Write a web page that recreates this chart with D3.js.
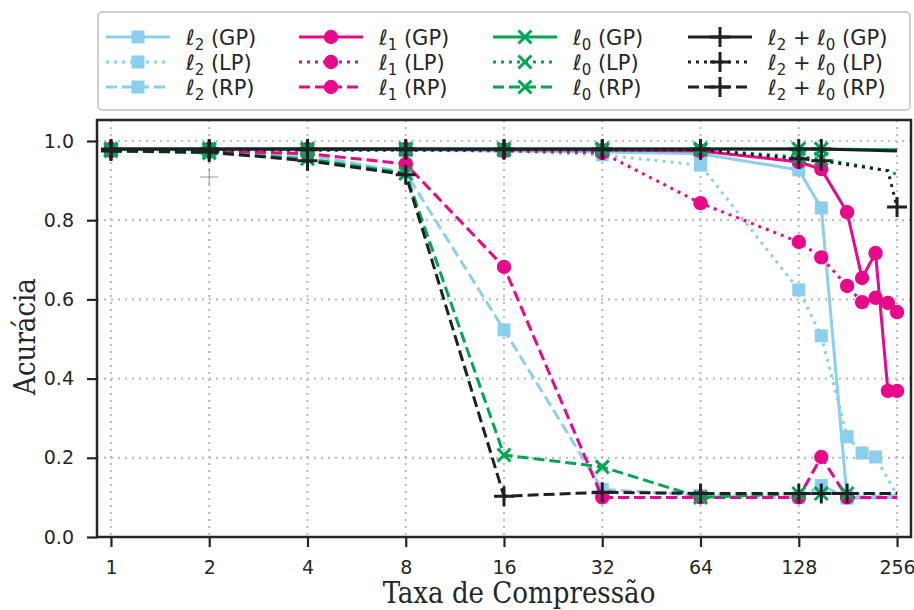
<!DOCTYPE html>
<html>
<head>
<meta charset="utf-8">
<script src="https://cdn.jsdelivr.net/npm/d3@7"></script>
<style>
  body { margin: 0; background: #fff; }
  svg { display: block; }
  .tick text { font-family: "DejaVu Sans", sans-serif; font-size: 19px; fill: #262626; }
  .label { font-family: "DejaVu Serif Condensed", "DejaVu Serif", serif; font-size: 29px; fill: #262626; }
  .leg text { font-family: "DejaVu Sans", sans-serif; font-size: 21px; fill: #262626; }
</style>
</head>
<body>
<svg id="chart" width="914" height="610"></svg>
<script>
// compression rates on the x axis
const rates = [1, 2, 4, 8, 16, 32, 64, 128, 150, 180, 200, 220, 240, 256];
const xTicks = [1, 2, 4, 8, 16, 32, 64, 128, 256];
const yTicks = [0, 0.2, 0.4, 0.6, 0.8, 1.0];

// accuracy per rate (null = no point at that rate)
const l2GP  = [0.978, 0.978, 0.978, 0.978, 0.975, 0.972, 0.968, 0.927, 0.831, 0.098, null, null, null, 0.100];
const l2LP  = [0.976, 0.976, 0.976, 0.976, 0.975, 0.965, 0.939, 0.624, 0.508, 0.253, 0.212, 0.202, null, 0.105];
const l2RP  = [0.975, 0.972, 0.965, 0.920, 0.523, 0.120, 0.105, 0.100, 0.130, 0.100, null, null, null, 0.105];
const l1GP  = [0.980, 0.980, 0.980, 0.980, 0.978, 0.977, 0.975, 0.947, 0.929, 0.820, 0.654, 0.717, 0.369, 0.369];
const l1LP  = [0.977, 0.977, 0.977, 0.977, 0.975, 0.970, 0.843, 0.745, 0.706, 0.634, 0.593, 0.604, 0.591, 0.568];
const l1RP  = [0.975, 0.975, 0.968, 0.942, 0.682, 0.100, 0.100, 0.100, 0.202, 0.100, null, null, null, 0.100];
const l0GP  = [0.980, 0.980, 0.980, 0.980, 0.980, 0.980, 0.980, 0.980, 0.980, null, null, null, null, 0.978];
const l0LP  = [0.978, 0.978, 0.978, 0.978, 0.978, 0.978, 0.978, 0.960, 0.955, null, null, null, 0.925, 0.915];
const l0RP  = [0.975, 0.970, 0.955, 0.918, 0.207, 0.177, 0.100, 0.110, 0.110, 0.110, null, null, null, 0.110];
const l20GP = [0.980, 0.980, 0.980, 0.980, 0.980, 0.980, 0.980, 0.980, 0.980, null, null, null, null, 0.975];
const l20LP = [0.978, 0.978, 0.978, 0.978, 0.978, 0.978, 0.978, 0.955, 0.950, null, null, null, 0.925, 0.833];
const l20RP = [0.975, 0.972, 0.950, 0.915, 0.103, 0.113, 0.110, 0.110, 0.110, 0.110, null, null, null, 0.110];

// faint stray marker seen in the figure
const strayPoint = [2, 0.909];

const colors = { l2: "#8ccfec", l1: "#e8088a", l0: "#00a651", l20: "#1c2126" };

// label parts: [text, subscript]
const series = [
  { key: "l2",  vals: l2GP,  style: "GP", shape: "square", unmarked: [256], label: [["ℓ", "2"]] },
  { key: "l2",  vals: l2LP,  style: "LP", shape: "square", unmarked: [256], label: [["ℓ", "2"]] },
  { key: "l2",  vals: l2RP,  style: "RP", shape: "square", unmarked: [256], label: [["ℓ", "2"]] },
  { key: "l1",  vals: l1GP,  style: "GP", shape: "circle", unmarked: [], label: [["ℓ", "1"]] },
  { key: "l1",  vals: l1LP,  style: "LP", shape: "circle", unmarked: [], label: [["ℓ", "1"]] },
  { key: "l1",  vals: l1RP,  style: "RP", shape: "circle", unmarked: [256], label: [["ℓ", "1"]] },
  { key: "l0",  vals: l0GP,  style: "GP", shape: "x", unmarked: [256], label: [["ℓ", "0"]] },
  { key: "l0",  vals: l0LP,  style: "LP", shape: "x", unmarked: [240, 256], label: [["ℓ", "0"]] },
  { key: "l0",  vals: l0RP,  style: "RP", shape: "x", unmarked: [256], label: [["ℓ", "0"]] },
  { key: "l20", vals: l20GP, style: "GP", shape: "plus", unmarked: [256], label: [["ℓ", "2"], [" + ℓ", "0"]] },
  { key: "l20", vals: l20LP, style: "LP", shape: "plus", unmarked: [240], label: [["ℓ", "2"], [" + ℓ", "0"]] },
  { key: "l20", vals: l20RP, style: "RP", shape: "plus", unmarked: [256], label: [["ℓ", "2"], [" + ℓ", "0"]] }
];

const dashes = { GP: null, LP: "3,5", RP: "11,5" };

const svg = d3.select("#chart");
const margin = { top: 120, right: 3, bottom: 73, left: 97 };
const W = 914, H = 610;

const x = d3.scaleLog().base(2)
  .domain([Math.pow(2, -0.142), Math.pow(2, 8.142)])
  .range([margin.left, W - margin.right]);
const y = d3.scaleLinear()
  .domain([0, 1.053])
  .range([H - margin.bottom, margin.top]);

// grid
const grid = svg.append("g");
xTicks.forEach(t => {
  grid.append("line")
    .attr("x1", x(t)).attr("x2", x(t))
    .attr("y1", margin.top).attr("y2", H - margin.bottom)
    .attr("stroke", "#bdbdbd").attr("stroke-width", 2.2)
    .attr("stroke-dasharray", "2,5");
});
yTicks.forEach(t => {
  grid.append("line")
    .attr("x1", margin.left).attr("x2", W - margin.right)
    .attr("y1", y(t)).attr("y2", y(t))
    .attr("stroke", "#bdbdbd").attr("stroke-width", 2.2)
    .attr("stroke-dasharray", "2,5");
});

function drawMarker(g, shape, cx, cy, color) {
  if (shape === "square") {
    g.append("rect").attr("x", cx - 6.5).attr("y", cy - 6.5)
      .attr("width", 13).attr("height", 13).attr("fill", color);
  } else if (shape === "circle") {
    g.append("circle").attr("cx", cx).attr("cy", cy).attr("r", 7.2).attr("fill", color);
  } else if (shape === "x") {
    const s = 6.5;
    g.append("path")
      .attr("d", `M${cx - s},${cy - s}L${cx + s},${cy + s}M${cx - s},${cy + s}L${cx + s},${cy - s}`)
      .attr("stroke", color).attr("stroke-width", 3).attr("fill", "none");
  } else if (shape === "plus") {
    const s = 10;
    g.append("path")
      .attr("d", `M${cx - s},${cy}L${cx + s},${cy}M${cx},${cy - s}L${cx},${cy + s}`)
      .attr("stroke", color).attr("stroke-width", 3).attr("fill", "none");
  }
}

const line = d3.line().x(d => x(d[0])).y(d => y(d[1]));

// stray marker
const sx = x(strayPoint[0]), sy = y(strayPoint[1]);
svg.append("path")
  .attr("d", `M${sx - 9},${sy}L${sx + 9},${sy}M${sx},${sy - 9}L${sx},${sy + 9}`)
  .attr("stroke", "#9a9a9a").attr("stroke-width", 1);

const plot = svg.append("g");
series.forEach(s => {
  const pts = rates.map((r, i) => [r, s.vals[i]]).filter(d => d[1] !== null);
  const color = colors[s.key];
  const g = plot.append("g");
  g.append("path")
    .attr("d", line(pts))
    .attr("fill", "none")
    .attr("stroke", color)
    .attr("stroke-width", 3)
    .attr("stroke-dasharray", dashes[s.style]);
  pts.filter(d => !s.unmarked.includes(d[0]))
    .forEach(d => drawMarker(g, s.shape, x(d[0]), y(d[1]), color));
});

// axes
const xAxis = svg.append("g")
  .attr("transform", `translate(0,${H - margin.bottom})`)
  .call(d3.axisBottom(x).tickValues(xTicks).tickFormat(d3.format("d")).tickSize(10).tickPadding(14));
const yAxis = svg.append("g")
  .attr("transform", `translate(${margin.left},0)`)
  .call(d3.axisLeft(y).tickValues(yTicks).tickFormat(d3.format(".1f")).tickSize(10).tickPadding(13));
[xAxis, yAxis].forEach(a => {
  a.select(".domain").remove();
  a.selectAll(".tick line").attr("stroke", "#262626").attr("stroke-width", 2.2);
});

// spines
svg.append("rect")
  .attr("x", margin.left).attr("y", margin.top)
  .attr("width", W - margin.right - margin.left)
  .attr("height", H - margin.bottom - margin.top)
  .attr("fill", "none").attr("stroke", "#262626").attr("stroke-width", 2.5);

svg.append("text").attr("class", "label")
  .attr("x", (margin.left + W - margin.right) / 2 + 15).attr("y", 603)
  .attr("text-anchor", "middle").text("Taxa de Compressão");
svg.append("text").attr("class", "label")
  .attr("transform", `translate(35,${(margin.top + H - margin.bottom) / 2 + 8}) rotate(-90)`)
  .attr("text-anchor", "middle").text("Acurácia");

// legend
const leg = svg.append("g").attr("class", "leg");
leg.append("rect")
  .attr("x", 98).attr("y", 12).attr("width", 812).attr("height", 98)
  .attr("rx", 4).attr("fill", "#fff").attr("stroke", "#cfcfcf").attr("stroke-width", 2);
const colX = [106, 299, 493, 688];
const rowY = [37, 62, 87];
series.forEach((s, i) => {
  const cx = colX[Math.floor(i / 3)], cy = rowY[i % 3];
  const color = colors[s.key];
  const g = leg.append("g");
  g.append("line")
    .attr("x1", cx).attr("x2", cx + 64).attr("y1", cy).attr("y2", cy)
    .attr("stroke", color).attr("stroke-width", 3)
    .attr("stroke-dasharray", dashes[s.style]);
  drawMarker(g, s.shape, cx + 32, cy, color);
  const t = g.append("text").attr("x", cx + 80).attr("y", cy + 8);
  let shift = 0;
  s.label.forEach(p => {
    t.append("tspan").attr("dy", -shift).text(p[0]);
    t.append("tspan").attr("font-size", "15px").attr("dy", 5).text(p[1]);
    shift = 5;
  });
  t.append("tspan").attr("dy", -shift).text(` (${s.style})`);
});
</script>
</body>
</html>
